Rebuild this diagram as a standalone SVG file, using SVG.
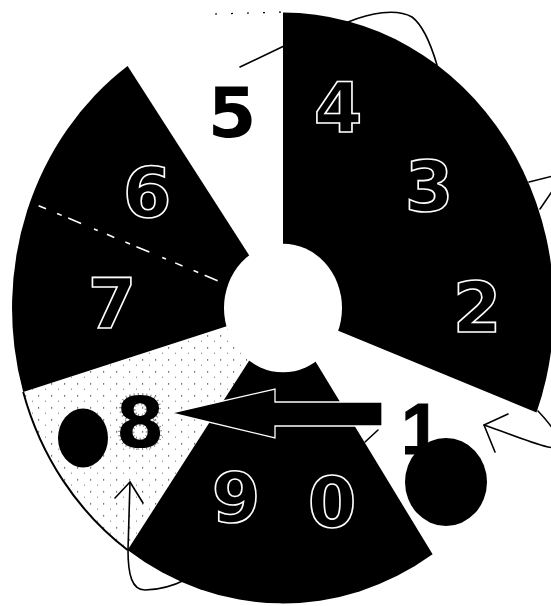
<svg xmlns="http://www.w3.org/2000/svg" width="551" height="606" viewBox="0 0 551 606">
<style>
.blk{fill:#000}
.wht{fill:#fff}
.out{font-family:"DejaVu Sans","Liberation Sans",sans-serif;font-weight:bold;font-size:70px;fill:#000;stroke:#fff;stroke-width:1.6px;text-anchor:middle}
.sol{font-family:"DejaVu Sans","Liberation Sans",sans-serif;font-weight:bold;font-size:70px;fill:#000;text-anchor:middle}
.ln{fill:none;stroke:#000;stroke-width:1.6;stroke-linecap:round;stroke-linejoin:round}
</style>
<defs>
<pattern id="speck" width="13" height="11" patternUnits="userSpaceOnUse">
<rect x="2" y="3" width="1.2" height="1.2" fill="#444"/>
<rect x="9" y="8" width="1" height="1" fill="#777"/>
</pattern>
</defs>
<rect width="551" height="606" fill="#fff"/>
<g id="disc" transform="translate(283,308) scale(1,1.09)">
<g id="sector-2-3-4"><path class="blk" d="M0,0 L0,-271 A271,271 0 0 1 253.5,95.8 Z"/></g>
<g id="sector-9-0"><path class="blk" d="M0,0 L149.6,226 A271,271 0 0 1 -155.4,222 Z"/></g>
<g id="sector-6-7"><path class="blk" d="M0,0 L-259.8,77 A271,271 0 0 1 -155.4,-222 Z"/>
<path d="M-65.4,-25.1 L-247.4,-95" fill="none" stroke="#fff" stroke-width="1.6" stroke-dasharray="14 7 5 12 8 10 4 14" vector-effect="non-scaling-stroke"/></g>
<g id="sector-8"><path fill="url(#speck)" d="M0,0 L-155.4,222 A271,271 0 0 1 -259.8,77 Z"/>
<path d="M-155.4,222 A271,271 0 0 1 -259.8,77" fill="none" stroke="#000" stroke-width="2" vector-effect="non-scaling-stroke"/></g>
<g id="hub"><circle class="wht" cx="0" cy="0" r="59"/></g>
</g>
<path d="M215,14 L283,12" fill="none" stroke="#000" stroke-width="1.2" stroke-dasharray="2 14"/>
<g id="labels">
<text id="n4" class="out" x="338" y="132">4</text>
<text id="n3" class="out" x="429" y="211">3</text>
<text id="n2" class="out" x="477" y="332">2</text>
<text id="n5" class="sol" x="232" y="137">5</text>
<text id="n6" class="out" x="147" y="217">6</text>
<text id="n7" class="out" x="112" y="328">7</text>
<text id="n8" class="sol" x="140" y="447" stroke="#888" stroke-width="4" stroke-dasharray="1 3" paint-order="stroke">8</text>
<text id="n9" class="out" x="236" y="522">9</text>
<text id="n0" class="out" x="332" y="527">0</text>
<text id="n1" x="421" y="454" font-family="Liberation Sans, sans-serif" font-weight="bold" font-size="72" text-anchor="middle" fill="#000" stroke="#000" stroke-width="1">1</text>
</g>
<g id="dots">
<ellipse id="dot-left" class="blk" cx="83" cy="438" rx="25" ry="29.5"/>
<ellipse id="dot-right" class="blk" cx="446" cy="482" rx="41" ry="44"/>
</g>
<g id="connectors">
<path id="big-arrow" d="M171,413 L275,389 L275,402 L382,402 L382,426 L275,426 L275,438 Z" fill="#000" stroke="#fff" stroke-width="1.3"/>
<path class="ln" d="M240,67 L284,46"/>
<path class="ln" d="M348,22 C370,13 396,8 412,17 C424,26 432,48 437,65"/>
<path class="ln" d="M529,182 L553,176"/>
<path class="ln" d="M540,209 L553,190"/>
<path class="ln" d="M538,411 C556,430 570,452 548,447 C528,442 505,432 484,425"/>
<path class="ln" d="M508,414 L484,425 L495,452"/>
<path class="ln" d="M365,442 L378,430"/>
<path class="ln" d="M130,482 L128,550 C128,575 132,590 145,590 C160,590 175,585 187,579"/>
<path class="ln" d="M115,498 L130,482 L143,503"/>
</g>
</svg>
